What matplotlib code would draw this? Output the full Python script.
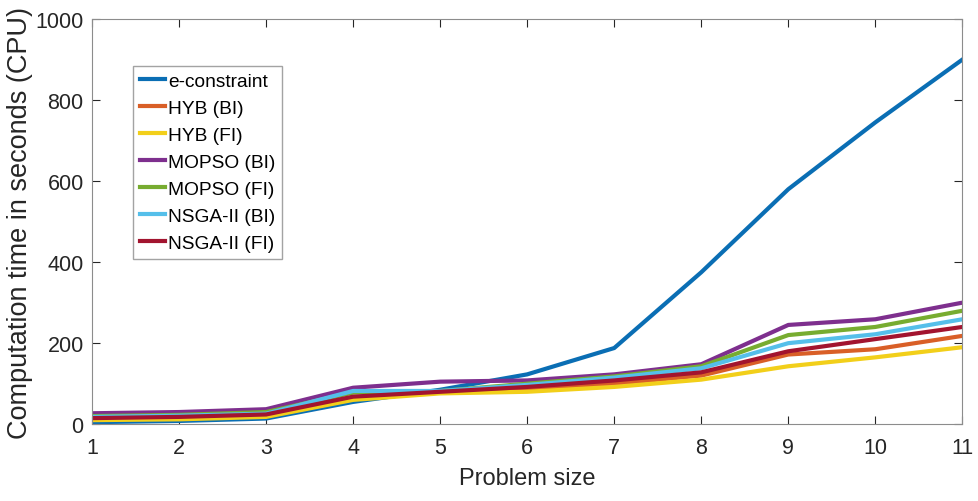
import matplotlib

matplotlib.use('Agg')
import matplotlib.pyplot as plt

plt.rcParams['font.family'] = ['Liberation Sans', 'DejaVu Sans']

sizes = [1, 2, 3, 4, 5, 6, 7, 8, 9, 10, 11]

e_constraint = [5, 8, 14, 55, 85, 123, 188, 375, 580, 745, 900]
hyb_bi = [12, 15, 20, 62, 78, 88, 100, 120, 172, 185, 218]
hyb_fi = [10, 12, 18, 60, 76, 80, 92, 110, 143, 165, 190]
mopso_bi = [27, 30, 37, 90, 105, 108, 123, 148, 245, 259, 300]
mopso_fi = [20, 23, 30, 78, 82, 100, 118, 143, 220, 240, 280]
nsga_bi = [18, 21, 26, 82, 82, 97, 115, 138, 200, 222, 259]
nsga_fi = [15, 18, 24, 68, 80, 92, 108, 128, 180, 210, 240]

series = [
    ('e-constraint', e_constraint, '#0A6EB4'),
    ('HYB (BI)', hyb_bi, '#D95F27'),
    ('HYB (FI)', hyb_fi, '#F2CF1A'),
    ('MOPSO (BI)', mopso_bi, '#7E2F8E'),
    ('MOPSO (FI)', mopso_fi, '#77AC30'),
    ('NSGA-II (BI)', nsga_bi, '#55BFEA'),
    ('NSGA-II (FI)', nsga_fi, '#A2142F'),
]

fig = plt.figure(figsize=(9.79, 5.02), dpi=100)
ax = fig.add_axes([0.094, 0.153, 0.889, 0.807])

for name, vals, col in series:
    ax.plot(sizes, vals, color=col, linewidth=3, label=name)

ax.set_xlim(1, 11)
ax.set_ylim(0, 1000)
ax.set_xticks(sizes)
ax.set_yticks([0, 200, 400, 600, 800, 1000])
ax.tick_params(direction='in', top=True, right=True, labelsize=15.5, colors='#262626', length=6)
ax.tick_params(axis='x', pad=9)
ax.tick_params(axis='y', pad=6)
for s in ax.spines.values():
    s.set_color('#8c8c8c')
ax.set_xlabel('Problem size', fontsize=17, color='#262626', labelpad=7)
ax.set_ylabel('Computation time in seconds (CPU)', fontsize=19.5, color='#262626', labelpad=2)

leg = ax.legend(loc='upper left', bbox_to_anchor=(0.047, 0.885), fontsize=13.8, frameon=True,
                fancybox=False, edgecolor='#8c8c8c', handlelength=1.3, handletextpad=0.2,
                labelspacing=0.5, borderpad=0.35, borderaxespad=0)

fig.savefig('out.png', dpi=100)
